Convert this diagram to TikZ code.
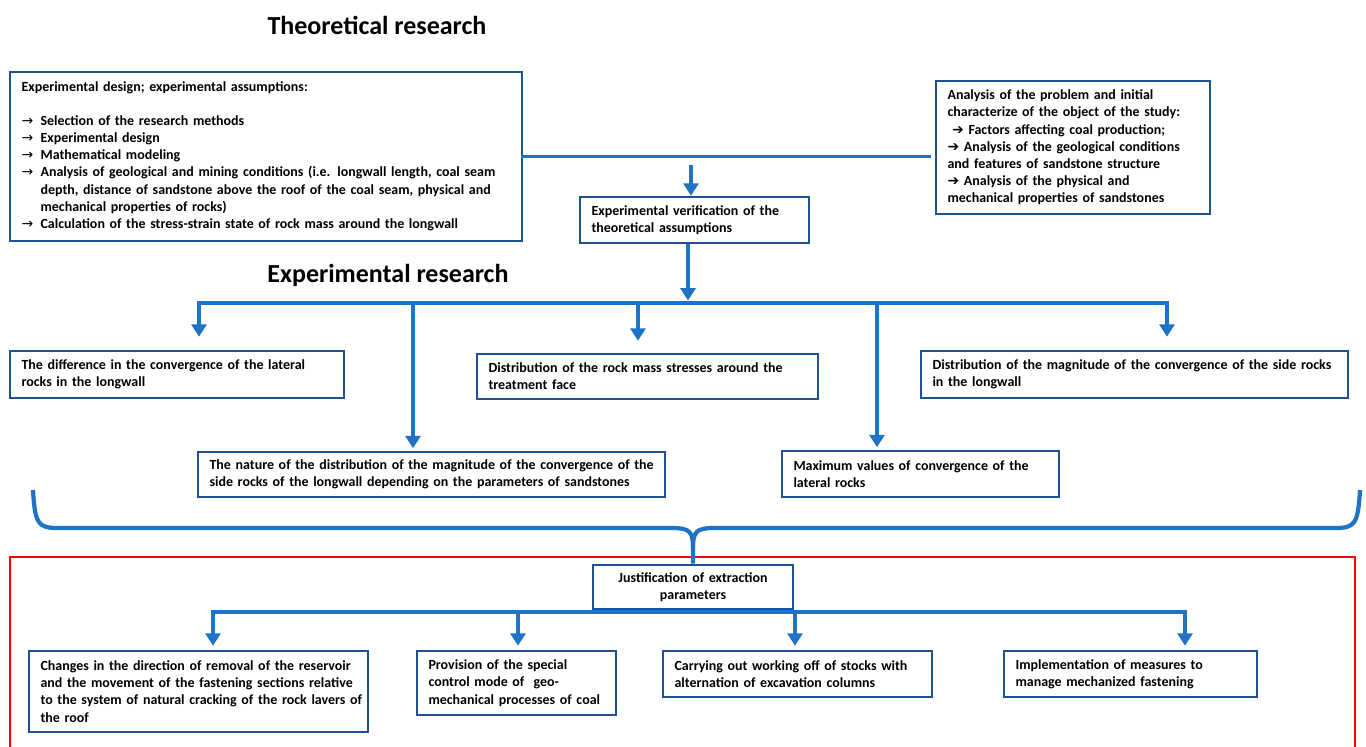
\documentclass[tikz,border=0pt]{standalone}
\usepackage{fontspec}
\setmainfont{Carlito}
\newfontfamily\arrowfont{DejaVu Sans}
\usetikzlibrary{arrows.meta}
\definecolor{boxblue}{RGB}{31,80,145}
\definecolor{linkblue}{RGB}{30,115,198}
\newcommand{\ra}{\makebox[0.38cm][l]{\arrowfont\mdseries\char"2192}}
\newcommand{\hra}{{\arrowfont\bfseries\char"2794}}
\newcommand{\ind}{\hspace*{0.38cm}}
\tikzset{
	box/.style={draw=boxblue, line width=1.5pt, fill=white, inner xsep=0.23cm, inner ysep=0pt, align=left, font=\fontsize{7.95}{9.8}\selectfont\bfseries},
	link/.style={draw=linkblue, line width=2.2pt, -{Triangle[width=8.5pt,length=7pt]}},
	bar/.style={draw=linkblue, line width=2.2pt, line cap=rect},
	brace/.style={draw=linkblue, line width=2.4pt},
	title/.style={font=\fontsize{14.8}{17}\selectfont\bfseries}
}
\begin{document}
\begin{tikzpicture}[x=0.02cm,y=-0.02cm]
			\useasboundingbox (0,0) rectangle (1366,747);
			\draw[red, line width=0.6pt] (10,747) -- (10,557) -- (1355,557) -- (1355,747);
			\node[title] (theo) at (377,25) {Theoretical research};
			\node[title] (expr) at (388,275) {Experimental research};
			\node[box, text width=9.78cm, minimum height=3.38cm] (design) at (266,156.5) {Experimental design; experimental assumptions:\\[0.32cm]
				\ra Selection of the research methods\\
				\ra Experimental design\\
				\ra Mathematical modeling\\
				\ra\mbox{Analysis of geological and mining conditions (i.e. longwall length, coal seam}\\
				\ind\mbox{depth, distance of sandstone above the roof of the coal seam, physical and}\\
				\ind mechanical properties of rocks)\\
				\ra\mbox{Calculation of the stress-strain state of rock mass around the longwall}};
			\node[box, text width=5.02cm, minimum height=2.66cm] (problem) at (1073,147.5) {Analysis of the problem and initial\\
				characterize of the object of the study:\\
				\ \hra{} Factors affecting coal production;\\
				\hra{} Analysis of the geological conditions\\
				and features of sandstone structure\\
				\hra{} Analysis of the physical and\\
				mechanical properties of sandstones};
			\node[box, text width=4.12cm, minimum height=0.92cm] (verif) at (694.5,220) {Experimental verification of the\\theoretical assumptions};
			\node[box, text width=6.22cm, minimum height=0.94cm] (diff) at (177,374.5) {The difference in the convergence of the lateral\\rocks in the longwall};
			\node[box, text width=6.36cm, minimum height=0.9cm] (stress) at (647.5,376.5) {Distribution of the rock mass stresses around the\\treatment face};
			\node[box, text width=8.08cm, minimum height=0.94cm] (magn) at (1134.5,374.5) {\mbox{Distribution of the magnitude of the convergence of the side rocks}\\in the longwall};
			\node[box, text width=8.88cm, minimum height=0.9cm] (nature) at (431.5,474.5) {\mbox{The nature of the distribution of the magnitude of the convergence of the}\\\mbox{side rocks of the longwall depending on the parameters of sandstones}};
			\node[box, text width=5.08cm, minimum height=0.92cm] (maxval) at (920.5,474) {Maximum values of convergence of the\\lateral rocks};
			\node[box, text width=3.54cm, minimum height=0.88cm, align=center] (justif) at (693,587) {Justification of extraction\\parameters};
			\node[box, text width=6.32cm, minimum height=1.62cm] (changes) at (198.5,691.5) {\mbox{Changes in the direction of removal of the reservoir}\\
				\mbox{and the movement of the fastening sections relative}\\
				\mbox{to the system of natural cracking of the rock lavers of}\\
				the roof};
			\node[box, text width=3.52cm, minimum height=1.28cm] (control) at (516.5,683) {Provision of the special\\control mode of\ \ geo-\\\mbox{mechanical processes of coal}};
			\node[box, text width=4.92cm, minimum height=0.92cm] (stocks) at (797.5,674) {\mbox{Carrying out working off of stocks with}\\alternation of excavation columns};
			\node[box, text width=4.60cm, minimum height=0.92cm] (measures) at (1130.5,674) {Implementation of measures to\\manage mechanized fastening};
			\coordinate (t1) at (691,165);
			\coordinate (bm) at (688,303);
			\coordinate (b1) at (199,303);
			\coordinate (b2) at (413,303);
			\coordinate (b3) at (638,303);
			\coordinate (b4) at (877,303);
			\coordinate (b5) at (1167,303);
			\coordinate (k1) at (213,612);
			\coordinate (k2) at (518,612);
			\coordinate (k3) at (795,612);
			\coordinate (k4) at (1185,612);
			\coordinate (brl) at (33,490);
			\coordinate (brr) at (1360,490);
			\draw[bar] (design.east) -- ([xshift=-0.12cm]problem.west |- design.east);
			\draw[link] (t1) -- (t1 |- verif.north);
			\draw[bar] (b1) -- (b5);
			\draw[link] (bm |- verif.south) -- ([yshift=0.05cm]bm);
			\draw[link, shorten >=0.26cm] (b1) -- (b1 |- diff.north);
			\draw[link, shorten >=0.05cm] (b2) -- (b2 |- nature.north);
			\draw[link, shorten >=0.24cm] (b3) -- (b3 |- stress.north);
			\draw[link, shorten >=0.05cm] (b4) -- (b4 |- maxval.north);
			\draw[link, shorten >=0.26cm] (b5) -- (b5 |- magn.north);
			\draw[brace] (brl) .. controls (35,524) and (38,528) .. (58,528) -- (672,528) .. controls (690,528) and (693,532) .. (693,548) -- (justif.north);
			\draw[brace] (brr) .. controls (1358,524) and (1355,528) .. (1335,528) -- (714,528) .. controls (696,528) and (693,532) .. (693,548);
			\draw[bar] (k1) -- (k4);
			\draw[link, shorten >=0.08cm] (k1) -- (k1 |- changes.north);
			\draw[link, shorten >=0.08cm] (k2) -- (k2 |- control.north);
			\draw[link, shorten >=0.08cm] (k3) -- (k3 |- stocks.north);
			\draw[link, shorten >=0.08cm] (k4) -- (k4 |- measures.north);
		\end{tikzpicture}
\end{document}
